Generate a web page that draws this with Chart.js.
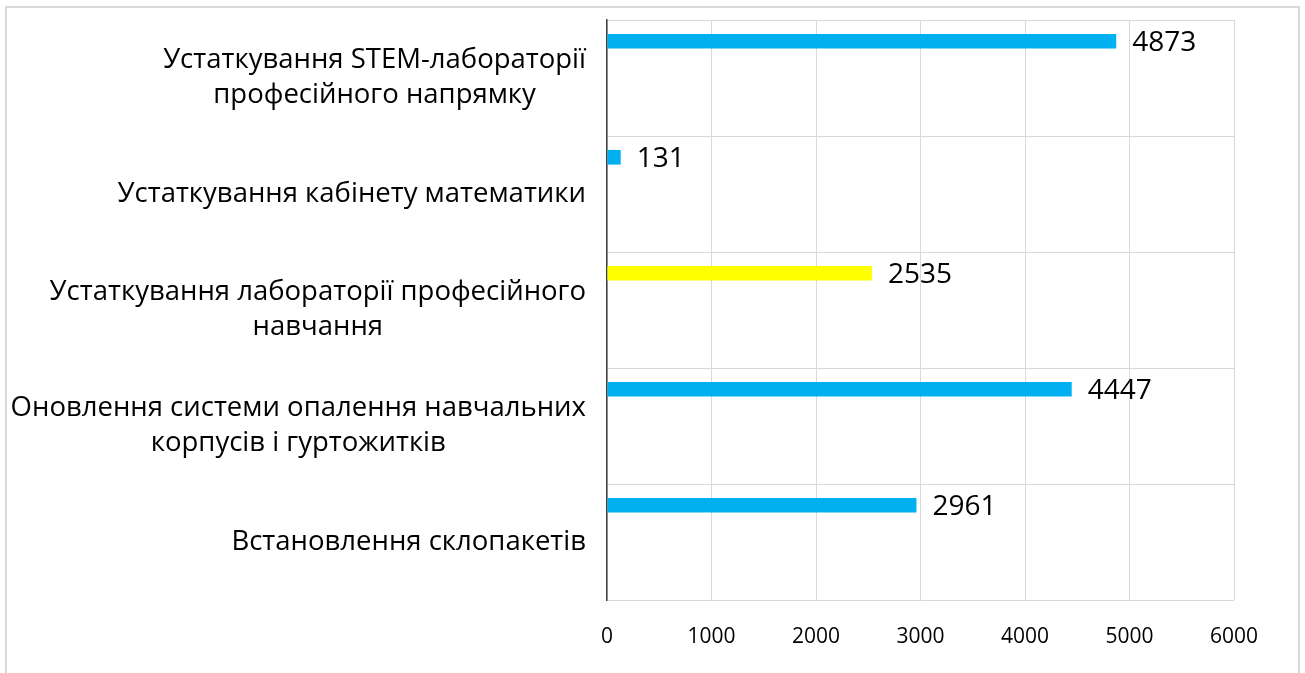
<!DOCTYPE html>
<html>
<head>
<meta charset="utf-8">
<script src="https://cdn.jsdelivr.net/npm/chart.js@4/dist/chart.umd.min.js"></script>
<style>
  html, body { margin: 0; padding: 0; background: #ffffff; }
  #wrap { position: relative; width: 1305px; height: 673px; overflow: hidden; background: #fff; }
  #frame { position: absolute; left: 5px; top: 6px; width: 1295px; height: 700px; border: 2px solid #d9d9d9; box-sizing: border-box; }
  canvas { position: absolute; left: 0; top: 0; }
</style>
</head>
<body>
<div id="wrap">
  <div id="frame"></div>
  <canvas id="c" width="1305" height="673"></canvas>
</div>
<script>
// ---- data ----
const categories = [
  ["Устаткування STEM-лабораторії", "професійного напрямку"],
  ["Устаткування кабінету математики"],
  ["Устаткування лабораторії професійного", "навчання"],
  ["Оновлення системи опалення навчальних", "корпусів і гуртожитків"],
  ["Встановлення склопакетів"]
];
const values = [4873, 131, 2535, 4447, 2961];
const barColors = ["#00B0F0", "#00B0F0", "#FFFF00", "#00B0F0", "#00B0F0"];
const xTicks = [0, 1000, 2000, 3000, 4000, 5000, 6000];
const emptySeries = [null, null, null, null, null];

const FONT = "'Open Sans', sans-serif";

const catLabelPlugin = {
  id: 'catLabels',
  afterDraw(chart) {
    const ctx = chart.ctx;
    const ys = chart.scales.y;
    ctx.save();
    ctx.font = "27.5px " + FONT;
    ctx.fillStyle = "#000000";
    ctx.textBaseline = "middle";
    ctx.textAlign = "center";
    const lh = 35;
    const rightEdge = 586;
    categories.forEach((lines, i) => {
      const yc = ys.getPixelForTick(i);
      const widest = Math.max(...lines.map(l => ctx.measureText(l).width));
      const cx = rightEdge - widest / 2;
      const y0 = yc - (lines.length - 1) * lh / 2;
      lines.forEach((l, j) => ctx.fillText(l, cx, y0 + j * lh));
    });
    ctx.restore();
  }
};

const valueLabelPlugin = {
  id: 'valueLabels',
  afterDatasetsDraw(chart) {
    const ctx = chart.ctx;
    const meta = chart.getDatasetMeta(0);
    ctx.save();
    ctx.font = "28px " + FONT;
    ctx.fillStyle = "#000000";
    ctx.textBaseline = "middle";
    ctx.textAlign = "left";
    meta.data.forEach((bar, i) => {
      ctx.fillText(String(values[i]), bar.x + 16, bar.y + 2);
    });
    ctx.restore();
  }
};

new Chart(document.getElementById('c'), {
  type: 'bar',
  data: {
    labels: categories,
    datasets: [
      { data: values, backgroundColor: barColors },
      { data: emptySeries }, { data: emptySeries }, { data: emptySeries },
      { data: emptySeries }, { data: emptySeries }
    ]
  },
  options: {
    indexAxis: 'y',
    responsive: false,
    animation: false,
    devicePixelRatio: 1,
    categoryPercentage: 0.76,
    barPercentage: 1.0,
    layout: { padding: { top: 20, right: 71, left: 0, bottom: 0 } },
    plugins: { legend: { display: false }, tooltip: { enabled: false } },
    scales: {
      x: {
        type: 'linear',
        min: 0, max: 6000,
        afterBuildTicks(scale) { scale.ticks = xTicks.map(v => ({ value: v })); },
        afterFit(scale) { scale.height = 73; },
        grid: { color: '#d9d9d9', lineWidth: 1, drawTicks: false },
        border: { display: false },
        ticks: {
          font: { family: FONT, size: 21 }, color: '#000000', padding: 24,
          callback: (v) => String(v)
        }
      },
      y: {
        afterFit(scale) { scale.width = 607; },
        grid: { color: '#d9d9d9', lineWidth: 1, drawTicks: false, offset: true },
        border: { display: true, color: '#404040', width: 1.5 },
        ticks: { display: false }
      }
    }
  },
  plugins: [catLabelPlugin, valueLabelPlugin]
});
</script>
</body>
</html>
